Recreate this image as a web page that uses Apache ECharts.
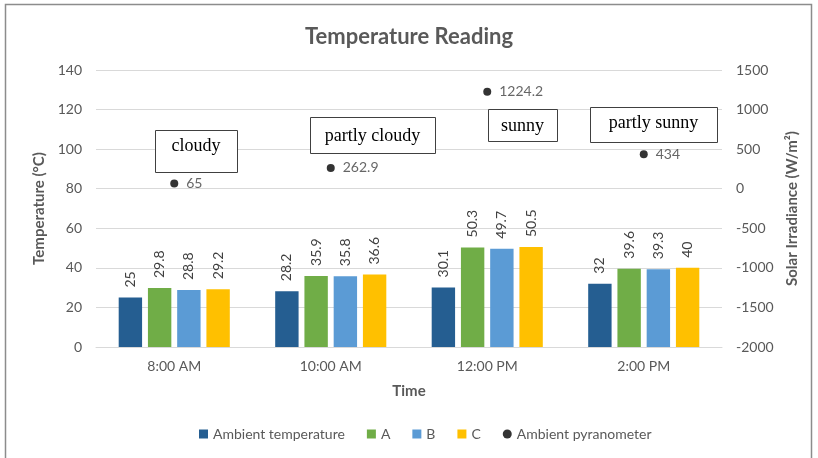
<!DOCTYPE html>
<html>
<head>
<meta charset="utf-8">
<script src="https://cdn.jsdelivr.net/npm/echarts@6/dist/echarts.min.js"></script>
<style>
  html, body { margin: 0; padding: 0; background: #fff; }
  #chart { width: 818px; height: 458px; }
</style>
</head>
<body>
<div id="chart"></div>
<script>
// data
const times = ["8:00 AM", "10:00 AM", "12:00 PM", "2:00 PM"];
const ambientTemp = [25, 28.2, 30.1, 32];
const seriesA = [29.8, 35.9, 50.3, 39.6];
const seriesB = [28.8, 35.8, 49.7, 39.3];
const seriesC = [29.2, 36.6, 50.5, 40];
const pyranometer = [65, 262.9, 1224.2, 434];
const weather = ["cloudy", "partly cloudy", "sunny", "partly sunny"];

const chart = echarts.init(document.getElementById("chart"));
const font = "Lato, 'Open Sans', sans-serif";
const textGray = "#595959";

// boxes with weather words (placement only)
const boxes = [
  { x: 155, y: 130, w: 82, h: 42, ty: 146 },
  { x: 310, y: 117, w: 125, h: 36, ty: 136 },
  { x: 488, y: 109, w: 69, h: 32, ty: 126 },
  { x: 590, y: 107, w: 127, h: 35, ty: 123 }
];

function barSeries(name, data, color) {
  return {
    name: name,
    type: "bar",
    data: data,
    barGap: "25%",
    barCategoryGap: "29%",
    itemStyle: { color: color },
    label: {
      show: true,
      position: "top",
      rotate: 90,
      align: "left",
      verticalAlign: "middle",
      distance: 10,
      color: "#404040",
      fontSize: 14,
      fontFamily: font
    }
  };
}

const option = {
  animation: false,
  textStyle: { fontFamily: font },
  title: {
    text: "Temperature Reading",
    left: "center",
    top: 21,
    textStyle: { fontSize: 22, fontWeight: "bold", color: textGray, fontFamily: font }
  },
  legend: {
    bottom: 12,
    left: 194,
    itemWidth: 9,
    itemHeight: 9,
    itemGap: 22,
    textStyle: { fontSize: 14, color: textGray, fontFamily: font },
    data: [
      { name: "Ambient temperature", icon: "rect" },
      { name: "A", icon: "rect" },
      { name: "B", icon: "rect" },
      { name: "C", icon: "rect" },
      { name: "Ambient pyranometer", icon: "circle" }
    ]
  },
  grid: { left: 96, right: 96, top: 70, bottom: 111, containLabel: false },
  xAxis: {
    type: "category",
    data: times,
    name: "Time",
    nameLocation: "middle",
    nameGap: 37,
    nameTextStyle: { fontSize: 15, fontWeight: "bold", color: textGray },
    axisLine: { lineStyle: { color: "#d9d9d9" } },
    axisTick: { show: false },
    axisLabel: { color: textGray, fontSize: 14, margin: 12 }
  },
  yAxis: [
    {
      type: "value",
      min: 0,
      max: 140,
      interval: 20,
      name: "Temperature (°C)",
      nameLocation: "middle",
      nameGap: 48,
      nameTextStyle: { fontSize: 15, fontWeight: "bold", color: textGray },
      axisLabel: { color: textGray, fontSize: 14, margin: 14 },
      splitLine: { lineStyle: { color: "#d9d9d9" } }
    },
    {
      type: "value",
      min: -2000,
      max: 1500,
      interval: 500,
      name: "Solar Irradiance (W/m²)",
      nameLocation: "middle",
      nameGap: 58,
      nameTextStyle: { fontSize: 15, fontWeight: "bold", color: textGray },
      axisLabel: { color: textGray, fontSize: 14, margin: 14, formatter: v => String(v) },
      splitLine: { show: false }
    }
  ],
  series: [
    barSeries("Ambient temperature", ambientTemp, "#255e91"),
    barSeries("A", seriesA, "#70ad47"),
    barSeries("B", seriesB, "#5b9bd5"),
    barSeries("C", seriesC, "#ffc000"),
    {
      name: "Ambient pyranometer",
      type: "scatter",
      yAxisIndex: 1,
      data: pyranometer,
      symbolSize: 8,
      itemStyle: { color: "#000" },
      label: {
        show: true,
        position: "right",
        distance: 8,
        color: "#404040",
        fontSize: 14,
        fontFamily: font
      }
    }
  ],
  graphic: [
    {
      type: "rect",
      shape: { x: 5.5, y: 4.5, width: 806, height: 470 },
      style: { fill: "none", stroke: "#8c8c8c", lineWidth: 1.5 },
      silent: true
    }
  ].concat(boxes.map((b, i) => ({
    type: "group",
    silent: true,
    z: 100,
    children: [
      {
        type: "rect",
        z: 100,
        shape: { x: b.x + 0.5, y: b.y + 0.5, width: b.w, height: b.h },
        style: { fill: "#fff", stroke: "#404040", lineWidth: 1 }
      },
      {
        type: "text",
        z: 101,
        x: b.x + b.w / 2,
        y: b.ty,
        style: {
          text: weather[i],
          fill: "#000",
          font: "18px 'Liberation Serif', 'DejaVu Serif', serif",
          align: "center",
          verticalAlign: "middle"
        }
      }
    ]
  })))
};

chart.setOption(option);
</script>
</body>
</html>
